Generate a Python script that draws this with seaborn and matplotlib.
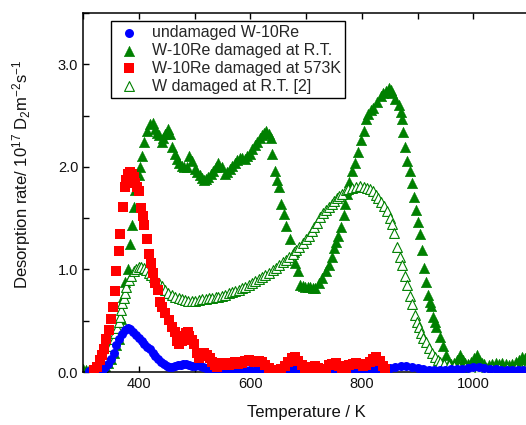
import numpy as np
import pandas as pd
import matplotlib
matplotlib.use("Agg")
import matplotlib.pyplot as plt
from matplotlib.ticker import MultipleLocator, FormatStrFormatter
import seaborn as sns

# undamaged W-10Re
t_undam = [310, 315, 320, 325, 330, 335, 340, 345, 350, 355, 360, 365, 370, 375, 380, 385,
           390, 395, 400, 405, 410, 415, 420, 425, 430, 435, 440, 445, 450, 455, 460, 465,
           470, 475, 480, 485, 490, 495, 500, 505, 510, 515, 520, 530, 540, 550, 560, 570,
           580, 590, 600, 610, 620, 630, 640, 650, 660, 670, 680, 690, 700, 710, 720, 730,
           740, 750, 760, 770, 780, 790, 800, 810, 820, 830, 840, 850, 860, 870, 880, 890,
           900, 910, 920, 930, 940, 950, 960, 970, 980, 990, 1000, 1010, 1020, 1030, 1040,
           1050, 1060, 1070, 1080, 1090, 1100]
r_undam = [0.01, 0.01, 0.01, 0.01, 0.02, 0.03, 0.05, 0.08, 0.13, 0.19, 0.26, 0.32, 0.37, 0.41, 0.43, 0.42,
           0.39, 0.36, 0.33, 0.30, 0.27, 0.24, 0.22, 0.19, 0.16, 0.13, 0.10, 0.08, 0.06, 0.05, 0.05, 0.06,
           0.07, 0.07, 0.08, 0.08, 0.07, 0.06, 0.06, 0.07, 0.06, 0.05, 0.04, 0.03, 0.03, 0.03, 0.02, 0.03,
           0.03, 0.02, 0.02, 0.02, 0.02, 0.03, 0.02, 0.02, 0.02, 0.02, 0.03, 0.03, 0.03, 0.04, 0.04, 0.03,
           0.02, 0.02, 0.02, 0.03, 0.03, 0.02, 0.02, 0.03, 0.03, 0.03, 0.03, 0.04, 0.05, 0.06, 0.06, 0.05,
           0.04, 0.03, 0.02, 0.02, 0.02, 0.02, 0.03, 0.03, 0.03, 0.04, 0.05, 0.05, 0.04, 0.03, 0.03,
           0.02, 0.02, 0.02, 0.02, 0.02, 0.02]

# W-10Re damaged at R.T.
t_rt = [300, 305, 310, 315, 320, 325, 330, 335, 340, 345, 350, 355, 360, 364, 368, 371, 375, 380,
        384, 387, 391, 393, 397, 400, 402, 405, 409, 414, 420, 425, 429, 432, 436, 441, 444, 447,
        452, 456, 459, 465, 468, 472, 477, 482, 486, 490, 495, 500, 505, 509, 513, 517, 521, 525,
        530, 534, 538, 543, 549, 554, 558, 563, 568, 572, 577, 581, 586, 590, 595, 599, 604, 608,
        612, 617, 621, 625, 628, 633, 637, 639, 644, 648, 651, 655, 660, 665, 672, 678, 681, 685,
        690, 695, 699, 704, 708, 713, 717, 723, 728, 735, 741, 746, 750, 753, 757, 762, 768, 770,
        773, 777, 782, 787, 793, 798, 804, 807, 812, 817, 821, 827, 834, 838, 843, 848, 852, 855,
        860, 866, 870, 872, 874, 877, 881, 886, 890, 893, 897, 900, 904, 908, 911, 915, 918, 922,
        924, 927, 931, 934, 941, 945, 951, 956, 960, 965, 970, 976, 981, 986, 991, 996, 1001, 1006,
        1010, 1015, 1020, 1028, 1034, 1040, 1046, 1051, 1058, 1064, 1070, 1076, 1082, 1087, 1093, 1098]
r_rt = [0.03, 0.02, 0.02, 0.01, 0.01, 0.02, 0.03, 0.04, 0.06, 0.09, 0.13, 0.19, 0.26, 0.32, 0.52, 0.73, 0.88, 1.00,
        1.25, 1.43, 1.61, 1.77, 1.85, 1.92, 2.00, 2.11, 2.24, 2.35, 2.42, 2.43, 2.37, 2.33, 2.31, 2.24, 2.28, 2.32,
        2.37, 2.32, 2.19, 2.13, 2.08, 2.04, 2.01, 2.00, 2.00, 2.11, 2.06, 1.98, 1.95, 1.92, 1.89, 1.87, 1.88, 1.90,
        1.93, 1.96, 2.00, 2.04, 2.00, 1.93, 1.95, 1.98, 2.01, 2.04, 2.07, 2.09, 2.09, 2.08, 2.11, 2.13, 2.17, 2.21,
        2.24, 2.28, 2.31, 2.33, 2.35, 2.32, 2.28, 2.13, 1.96, 1.87, 1.80, 1.64, 1.54, 1.42, 1.30, 1.17, 1.06, 0.98,
        0.85, 0.84, 0.83, 0.83, 0.83, 0.82, 0.82, 0.87, 0.92, 0.98, 1.04, 1.12, 1.21, 1.27, 1.33, 1.41, 1.53, 1.64,
        1.74, 1.85, 1.96, 2.04, 2.14, 2.26, 2.35, 2.47, 2.52, 2.55, 2.57, 2.63, 2.69, 2.72, 2.74, 2.77, 2.75, 2.72,
        2.66, 2.60, 2.53, 2.47, 2.34, 2.19, 2.06, 1.96, 1.84, 1.71, 1.58, 1.46, 1.35, 1.19, 1.01, 0.88, 0.75, 0.68,
        0.64, 0.54, 0.49, 0.44, 0.34, 0.25, 0.17, 0.09, 0.08, 0.09, 0.12, 0.17, 0.12, 0.09, 0.08, 0.10, 0.14, 0.17,
        0.12, 0.09, 0.08, 0.07, 0.08, 0.09, 0.08, 0.09, 0.08, 0.07, 0.08, 0.10, 0.12, 0.15, 0.14, 0.12]

# W-10Re damaged at 573K
t_573 = [320, 325, 330, 334, 337, 341, 346, 350, 353, 357, 360, 364, 367, 371, 375, 378, 381, 384,
         387, 391, 393, 397, 400, 404, 407, 409, 414, 418, 422, 425, 430, 434, 438, 441, 447, 454,
         459, 465, 468, 473, 477, 481, 485, 488, 491, 495, 499, 504, 508, 512, 517, 523, 527, 531,
         536, 540, 545, 549, 555, 561, 566, 572, 578, 585, 591, 597, 603, 609, 615, 621, 627, 633,
         640, 647, 655, 662, 668, 674, 680, 686, 692, 698, 704, 710, 716, 722, 728, 735, 741, 747,
         753, 759, 765, 772, 778, 784, 790, 796, 802, 808, 814, 820, 826, 832, 838, 842]
r_573 = [0.02, 0.05, 0.12, 0.17, 0.22, 0.32, 0.41, 0.52, 0.63, 0.79, 0.98, 1.18, 1.35, 1.61, 1.80, 1.87, 1.93, 1.95,
         1.93, 1.90, 1.84, 1.80, 1.76, 1.60, 1.52, 1.43, 1.30, 1.15, 1.06, 0.97, 0.87, 0.80, 0.68, 0.63, 0.58, 0.51,
         0.44, 0.39, 0.30, 0.27, 0.30, 0.35, 0.38, 0.39, 0.35, 0.31, 0.27, 0.19, 0.14, 0.16, 0.19, 0.17, 0.14, 0.10,
         0.07, 0.05, 0.07, 0.09, 0.08, 0.07, 0.09, 0.10, 0.08, 0.09, 0.11, 0.12, 0.11, 0.10, 0.11, 0.10, 0.07, 0.04,
         0.02, 0.02, 0.03, 0.06, 0.10, 0.14, 0.15, 0.11, 0.07, 0.04, 0.03, 0.05, 0.06, 0.04, 0.02, 0.03, 0.07, 0.08,
         0.09, 0.06, 0.03, 0.04, 0.07, 0.08, 0.09, 0.08, 0.06, 0.07, 0.10, 0.13, 0.15, 0.11, 0.06, 0.03]

# W damaged at R.T. [2]
t_w = [320, 324, 328, 332, 337, 341, 346, 350, 355, 358, 361, 364, 366, 368, 370, 373, 375, 378,
       382, 386, 391, 395, 400, 404, 409, 413, 418, 422, 427, 431, 436, 441, 447, 453, 459, 465,
       472, 477, 483, 489, 495, 501, 508, 514, 520, 526, 532, 538, 543, 549, 555, 561, 567, 573,
       579, 585, 591, 597, 603, 609, 615, 621, 627, 634, 640, 646, 652, 658, 664, 670, 676, 682,
       688, 694, 700, 705, 710, 715, 720, 726, 731, 736, 741, 746, 751, 755, 760, 765, 771, 776,
       782, 789, 796, 804, 810, 815, 820, 825, 830, 835, 840, 845, 850, 854, 858, 863, 868, 872,
       877, 881, 886, 890, 895, 899, 902, 906, 910, 915, 920, 926, 931, 936, 941, 948, 956, 965,
       974, 985, 997, 1010, 1022, 1034, 1046, 1060, 1076, 1090, 1100]
r_w = [0.00, 0.01, 0.02, 0.05, 0.09, 0.14, 0.19, 0.25, 0.32, 0.38, 0.43, 0.49, 0.54, 0.60, 0.67, 0.72, 0.77, 0.83,
       0.90, 0.94, 0.98, 1.00, 1.02, 1.02, 1.01, 0.99, 0.97, 0.95, 0.93, 0.90, 0.87, 0.84, 0.80, 0.77, 0.75, 0.73,
       0.72, 0.71, 0.70, 0.69, 0.69, 0.69, 0.70, 0.71, 0.71, 0.72, 0.72, 0.73, 0.73, 0.74, 0.75, 0.77, 0.78, 0.79,
       0.80, 0.82, 0.83, 0.85, 0.87, 0.89, 0.91, 0.93, 0.95, 0.97, 0.99, 1.01, 1.04, 1.07, 1.09, 1.12, 1.15, 1.19,
       1.22, 1.26, 1.30, 1.33, 1.37, 1.41, 1.45, 1.51, 1.55, 1.58, 1.61, 1.64, 1.67, 1.70, 1.72, 1.74, 1.77, 1.78,
       1.79, 1.80, 1.81, 1.80, 1.79, 1.78, 1.76, 1.73, 1.70, 1.66, 1.62, 1.57, 1.50, 1.44, 1.36, 1.22, 1.12, 1.04,
       0.94, 0.85, 0.74, 0.66, 0.56, 0.49, 0.44, 0.38, 0.33, 0.29, 0.23, 0.19, 0.15, 0.12, 0.10, 0.08, 0.07, 0.06,
       0.05, 0.05, 0.04, 0.04, 0.04, 0.04, 0.04, 0.04, 0.04, 0.04, 0.04]

sns.set_style("ticks")
plt.rcParams['font.family'] = ['Liberation Sans', 'DejaVu Sans']
plt.rcParams['mathtext.fontset'] = 'custom'
plt.rcParams['mathtext.rm'] = 'Liberation Sans'
plt.rcParams['mathtext.it'] = 'Liberation Sans'

green = '#008000'

fig = plt.figure(figsize=(5.26, 4.25), dpi=100)
ax = fig.add_axes([83 / 526, 53 / 425, 446 / 526, 359 / 425])

sns.scatterplot(x=t_rt, y=r_rt, ax=ax, marker='^', color=green, s=58, linewidth=0.3,
                edgecolor=green, label='W-10Re damaged at R.T.', zorder=2)
sns.scatterplot(x=t_w, y=r_w, ax=ax, marker='^', facecolor='white', edgecolor=green, s=50,
                linewidth=0.8, label='W damaged at R.T. [2]', zorder=3)
sns.scatterplot(x=t_undam, y=r_undam, ax=ax, marker='o', color='#0000ff', s=42, linewidth=0,
                label='undamaged W-10Re', zorder=4)
sns.scatterplot(x=t_573, y=r_573, ax=ax, marker='s', color='#ff0000', s=44, linewidth=0,
                label='W-10Re damaged at 573K', zorder=5)

ax.set_xlim(300, 1100)
ax.set_ylim(0, 3.5)
ax.set_xticks([400, 600, 800, 1000])
ax.xaxis.set_minor_locator(MultipleLocator(100))
ax.yaxis.set_major_locator(MultipleLocator(1.0))
ax.yaxis.set_minor_locator(MultipleLocator(0.5))
ax.yaxis.set_major_formatter(FormatStrFormatter('%.1f'))
ax.tick_params(which='both', direction='in', top=True, right=False, length=4, width=1,
               labelsize=10.5, color='black', labelcolor='#111111')
for sp in ax.spines.values():
    sp.set_linewidth(1.1)
    sp.set_color('black')
ax.spines['right'].set_visible(False)

ax.set_xlabel('Temperature / K', fontsize=12, color='#111111', labelpad=10)
ax.set_ylabel('Desorption rate/ 10$^{17}$ D$_2$m$^{-2}$s$^{-1}$', fontsize=12, color='#111111')
ax.yaxis.set_label_coords(-0.112, 0.55)

h, l = ax.get_legend_handles_labels()
order = [2, 0, 3, 1]
leg = ax.legend([h[i] for i in order], [l[i] for i in order], loc='upper left',
                bbox_to_anchor=(0.063, 0.978), borderaxespad=0, frameon=True, fancybox=False,
                edgecolor='black', framealpha=1, fontsize=11.5, handletextpad=0.5,
                labelspacing=0.18, borderpad=0.25, handlelength=1.8)
leg.get_frame().set_linewidth(1.0)
leg.set_zorder(10)

fig.savefig('out.png', dpi=100)
